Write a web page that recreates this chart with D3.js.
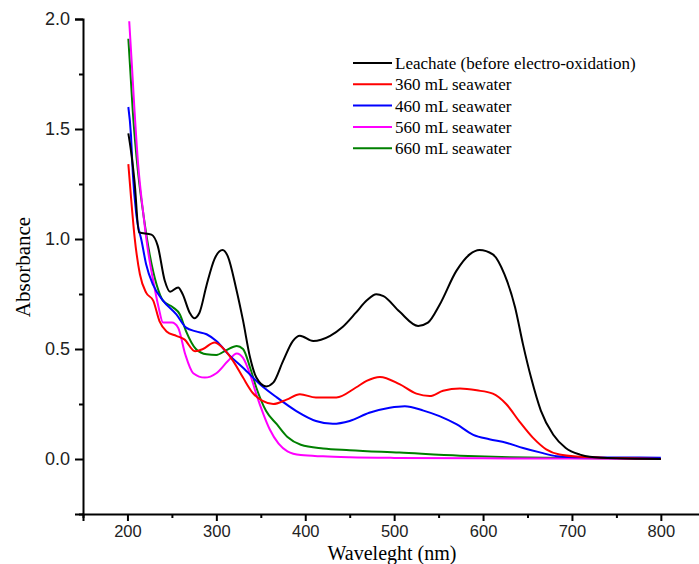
<!DOCTYPE html>
<html lang="en">
<head>
  <meta charset="UTF-8" />
  <title>Absorbance spectra</title>
  <style>
    body { margin: 0; background: #fff; }
    svg { display: block; font-family: "Liberation Serif", "Times New Roman", serif; }
    .tick text { fill: #222; }
  </style>
</head>
<body>
  <div id="chart"></div>
  <script src="https://d3js.org/d3.v7.min.js"></script>
  <script>
    // series names and colours
    const seriesNames = ["Leachate (before electro-oxidation)", "360 mL seawater", "460 mL seawater", "560 mL seawater", "660 mL seawater"];
    const seriesColors = ["#000000", "#ff0000", "#0000ff", "#ff00ff", "#008000"];

    // wavelength (nm) / absorbance
    const leachateWl  = [201, 204, 208, 213, 227, 234, 242, 248, 257, 262, 270, 275, 281, 289, 298, 307, 313, 322, 330, 338, 345, 356, 364, 375, 386, 394, 409, 428, 442, 457, 469, 480, 488, 506, 527, 538, 551, 570, 585, 596, 611, 624, 636, 645, 654, 665, 679, 693, 709, 720, 750, 800];
    const leachateAbs = [1.48, 1.40, 1.26, 1.03, 1.02, 0.97, 0.81, 0.76, 0.78, 0.75, 0.665, 0.64, 0.665, 0.79, 0.91, 0.95, 0.92, 0.78, 0.63, 0.46, 0.37, 0.33, 0.347, 0.445, 0.536, 0.56, 0.536, 0.56, 0.6, 0.665, 0.72, 0.749, 0.74, 0.67, 0.605, 0.62, 0.70, 0.855, 0.93, 0.95, 0.93, 0.84, 0.69, 0.52, 0.37, 0.22, 0.11, 0.05, 0.02, 0.01, 0.003, 0.0];

    const sw360Wl  = [201, 204, 208, 214, 221, 229, 236, 244, 255, 264, 276, 285, 298, 307, 319, 330, 341, 352, 364, 379, 394, 412, 435, 457, 469, 484, 506, 525, 540, 555, 574, 593, 611, 626, 641, 656, 671, 686, 708, 750, 800];
    const sw360Abs = [1.34, 1.19, 1.01, 0.84, 0.756, 0.72, 0.627, 0.58, 0.56, 0.544, 0.49, 0.50, 0.53, 0.506, 0.445, 0.37, 0.30, 0.264, 0.25, 0.27, 0.294, 0.28, 0.28, 0.325, 0.355, 0.373, 0.34, 0.297, 0.286, 0.31, 0.32, 0.312, 0.297, 0.25, 0.17, 0.097, 0.044, 0.02, 0.01, 0.004, 0.0];

    const sw460Wl  = [201, 204, 206, 210, 216, 221, 229, 240, 255, 266, 277, 289, 300, 315, 330, 349, 368, 390, 412, 431, 450, 472, 495, 512, 533, 551, 570, 589, 607, 626, 645, 664, 683, 711, 750, 800];
    const sw460Abs = [1.60, 1.47, 1.30, 1.11, 0.99, 0.885, 0.79, 0.72, 0.657, 0.597, 0.58, 0.567, 0.536, 0.47, 0.415, 0.34, 0.28, 0.218, 0.173, 0.16, 0.173, 0.21, 0.233, 0.24, 0.22, 0.195, 0.158, 0.11, 0.09, 0.074, 0.05, 0.03, 0.013, 0.008, 0.007, 0.006];

    const sw560Wl  = [202, 205, 208, 212, 218, 223, 229, 235, 240, 250, 257, 265, 274, 287, 300, 313, 323, 330, 338, 345, 353, 360, 370, 380, 395, 420, 450, 500, 600, 700, 800];
    const sw560Abs = [1.99, 1.79, 1.58, 1.34, 1.11, 0.95, 0.81, 0.69, 0.62, 0.62, 0.597, 0.476, 0.39, 0.37, 0.39, 0.445, 0.48, 0.46, 0.385, 0.294, 0.203, 0.135, 0.07, 0.035, 0.018, 0.012, 0.008, 0.005, 0.003, 0.002, 0.0];

    const sw660Wl  = [201, 203, 206, 212, 218, 225, 233, 240, 251, 259, 266, 277, 289, 300, 311, 323, 330, 338, 345, 356, 368, 380, 395, 420, 450, 506, 574, 630, 700, 800];
    const sw660Abs = [1.91, 1.78, 1.58, 1.30, 1.11, 0.93, 0.79, 0.72, 0.69, 0.657, 0.58, 0.50, 0.476, 0.473, 0.494, 0.514, 0.50, 0.415, 0.324, 0.218, 0.158, 0.10, 0.065, 0.048, 0.04, 0.029, 0.015, 0.008, 0.004, 0.0];

    // axis ticks
    const xTicks = [200, 300, 400, 500, 600, 700, 800];
    const xMinorTicks = [150, 250, 350, 450, 550, 650, 750, 850];
    const yTicks = [0.0, 0.5, 1.0, 1.5, 2.0];
    const yMinorTicks = [-0.25, 0.25, 0.75, 1.25, 1.75];

    const allWl = [leachateWl, sw360Wl, sw460Wl, sw560Wl, sw660Wl];
    const allAbs = [leachateAbs, sw360Abs, sw460Abs, sw560Abs, sw660Abs];

    const W = 699, H = 564;
    const svg = d3.select("#chart").append("svg")
      .attr("width", W)
      .attr("height", H);

    const x = d3.scaleLinear().domain([150, 850]).range([83, 705.3]);
    const y = d3.scaleLinear().domain([-0.25, 2.0]).range([514, 19]);

    // lines
    const line = d3.line()
      .x(d => x(d[0]))
      .y(d => y(d[1]))
      .curve(d3.curveMonotoneX);

    // draw green first so black ends up on top like the original
    const drawOrder = [4, 3, 2, 1, 0];
    drawOrder.forEach(i => {
      const pts = allWl[i].map((w, k) => [w, allAbs[i][k]]);
      svg.append("path")
        .datum(pts)
        .attr("fill", "none")
        .attr("stroke", seriesColors[i])
        .attr("stroke-width", 2)
        .attr("d", line);
    });

    // x axis
    const xAxisG = svg.append("g").attr("transform", `translate(0,${y(-0.25)})`);
    xAxisG.call(d3.axisBottom(x).tickValues(xTicks).tickFormat(d3.format("d")).tickSize(7).tickPadding(4));
    xAxisG.append("g").call(d3.axisBottom(x).tickValues(xMinorTicks).tickFormat("").tickSize(4))
      .select(".domain").remove();
    xAxisG.selectAll(".tick text").style("font-size", "16.5px");

    // y axis
    const yAxisG = svg.append("g").attr("transform", `translate(${x(150)},0)`);
    yAxisG.call(d3.axisLeft(y).tickValues(yTicks).tickFormat(d3.format(".1f")).tickSize(8).tickPadding(5));
    yAxisG.append("g").call(d3.axisLeft(y).tickValues(yMinorTicks).tickFormat("").tickSize(4))
      .select(".domain").remove();
    yAxisG.selectAll(".tick text").style("font-size", "18px");

    svg.selectAll(".domain").attr("stroke", "#000").attr("stroke-width", 2);
    svg.selectAll(".tick line").attr("stroke", "#000").attr("stroke-width", 2);

    // axis titles
    svg.append("text")
      .attr("x", 392)
      .attr("y", 559.5)
      .attr("text-anchor", "middle")
      .style("font-size", "20px")
      .text("Waveleght (nm)");

    svg.append("text")
      .attr("transform", "translate(30,267) rotate(-90)")
      .attr("text-anchor", "middle")
      .style("font-size", "21px")
      .text("Absorbance");

    // legend
    const legend = svg.append("g").attr("transform", "translate(353,63)");
    seriesNames.forEach((name, i) => {
      const row = legend.append("g").attr("transform", `translate(0,${i * 21.3})`);
      row.append("line")
        .attr("x1", 0).attr("x2", 39)
        .attr("stroke", seriesColors[i])
        .attr("stroke-width", 2);
      row.append("text")
        .attr("x", 42)
        .attr("dy", "0.35em")
        .style("font-size", "17px")
        .text(name);
    });
  </script>
</body>
</html>
